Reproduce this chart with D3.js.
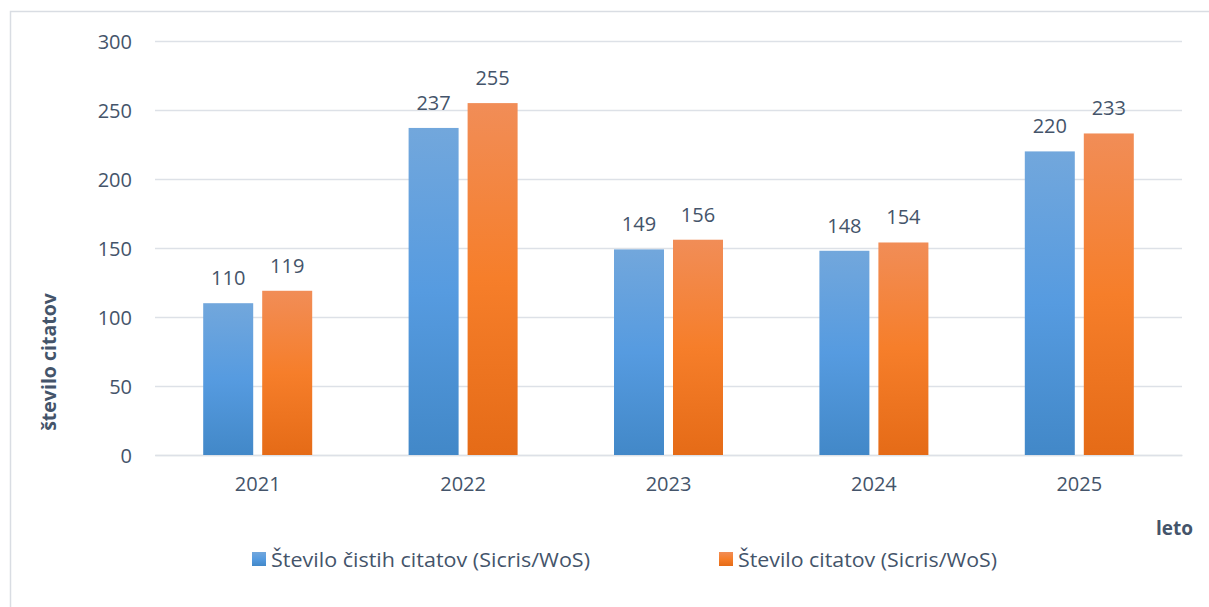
<!DOCTYPE html>
<html><head><meta charset="utf-8">
<script src="https://cdn.jsdelivr.net/npm/d3@7"></script>
<style>
html,body{margin:0;padding:0;background:#fff;}
svg{display:block;}
text{font-family:"Open Sans",sans-serif;fill:#44546a;}
</style></head>
<body>
<svg id="chart" width="1209" height="607"></svg>
<script>
const categories = ["2021","2022","2023","2024","2025"];
const seriesNames = ["Število čistih citatov (Sicris/WoS)","Število citatov (Sicris/WoS)"];
const cleanCitations = [110,237,149,148,220];
const allCitations = [119,255,156,154,233];
const yTicks = [0,50,100,150,200,250,300];
const yTitle = "število citatov";
const xTitle = "leto";

const svg = d3.select("#chart");
const W = 1209, H = 607;
const x0 = 155, x1 = 1182, yTop = 41, yBot = 455;

// frame
svg.append("path").attr("d",`M10.5,${H} L10.5,11.5 L${W},11.5`)
  .attr("fill","none").attr("stroke","#d9dde3").attr("stroke-width",1.5);

const defs = svg.append("defs");
function grad(id, c0, c1, c2){
  const g = defs.append("linearGradient").attr("id",id).attr("x1",0).attr("y1",0).attr("x2",0).attr("y2",1);
  g.append("stop").attr("offset","0%").attr("stop-color",c0);
  g.append("stop").attr("offset","50%").attr("stop-color",c1);
  g.append("stop").attr("offset","100%").attr("stop-color",c2);
}
grad("gBlue","#72a7dc","#569be0","#4288c8");
grad("gOrange","#f18d57","#f67e2a","#e56b17");
const fills = ["url(#gBlue)","url(#gOrange)"];

const y = d3.scaleLinear().domain([0,300]).range([yBot,yTop]);
const x = d3.scaleBand().domain(categories).range([x0,x1]).paddingInner(0).paddingOuter(0);
const series = [cleanCitations, allCitations];
const xs = d3.scaleBand().domain([0,1]).range([0,109]).paddingInner(9/59);

// gridlines
const yAxis = d3.axisLeft(y).tickValues(yTicks).tickSize(-(x1-x0)).tickPadding(18);
const ga = svg.append("g").attr("transform",`translate(${x0},0)`).call(yAxis);
ga.select(".domain").remove();
ga.selectAll(".tick line").attr("stroke","#dde1e7").attr("stroke-width",1.5);
ga.selectAll(".tick text").attr("font-size",20).attr("fill","#44546a").attr("x",-23).attr("dy","0.35em");

// x axis
const xAxis = d3.axisBottom(x).tickSize(0).tickPadding(22);
const gx = svg.append("g").attr("transform",`translate(0,${yBot})`).call(xAxis);
gx.select(".domain").attr("stroke","#dde1e7").attr("stroke-width",1.5);
gx.selectAll(".tick text").attr("font-size",20).attr("fill","#44546a").attr("dy","0.71em");

// bars
categories.forEach((c,i)=>{
  const gx0 = x(c) + (x.bandwidth()-109)/2;
  series.forEach((s,k)=>{
    svg.append("rect")
      .attr("x", gx0 + xs(k)).attr("width", xs.bandwidth())
      .attr("y", y(s[i])).attr("height", yBot - y(s[i]))
      .attr("fill", fills[k]);
    svg.append("text")
      .attr("x", gx0 + xs(k) + xs.bandwidth()/2)
      .attr("y", y(s[i]) - 25)
      .attr("text-anchor","middle").attr("dy","0.35em")
      .attr("font-size",20).text(s[i]);
  });
});

// axis titles
svg.append("text").attr("transform","translate(56,362) rotate(-90)")
  .attr("text-anchor","middle").attr("font-size",19.5).attr("font-weight","bold").text(yTitle);
svg.append("text").attr("x",1193).attr("y",535).attr("text-anchor","end")
  .attr("font-size",19).attr("font-weight","bold").text(xTitle);

// legend
const legX = [252, 719];
const legW = [319, 259];
seriesNames.forEach((n,k)=>{
  svg.append("rect").attr("x",legX[k]).attr("y",552).attr("width",14).attr("height",14)
    .attr("fill",fills[k]);
  svg.append("text").attr("x",legX[k]+19).attr("y",567)
    .attr("font-size",20.5).attr("textLength",legW[k]).attr("lengthAdjust","spacingAndGlyphs").text(n);
});
</script>
</body></html>
